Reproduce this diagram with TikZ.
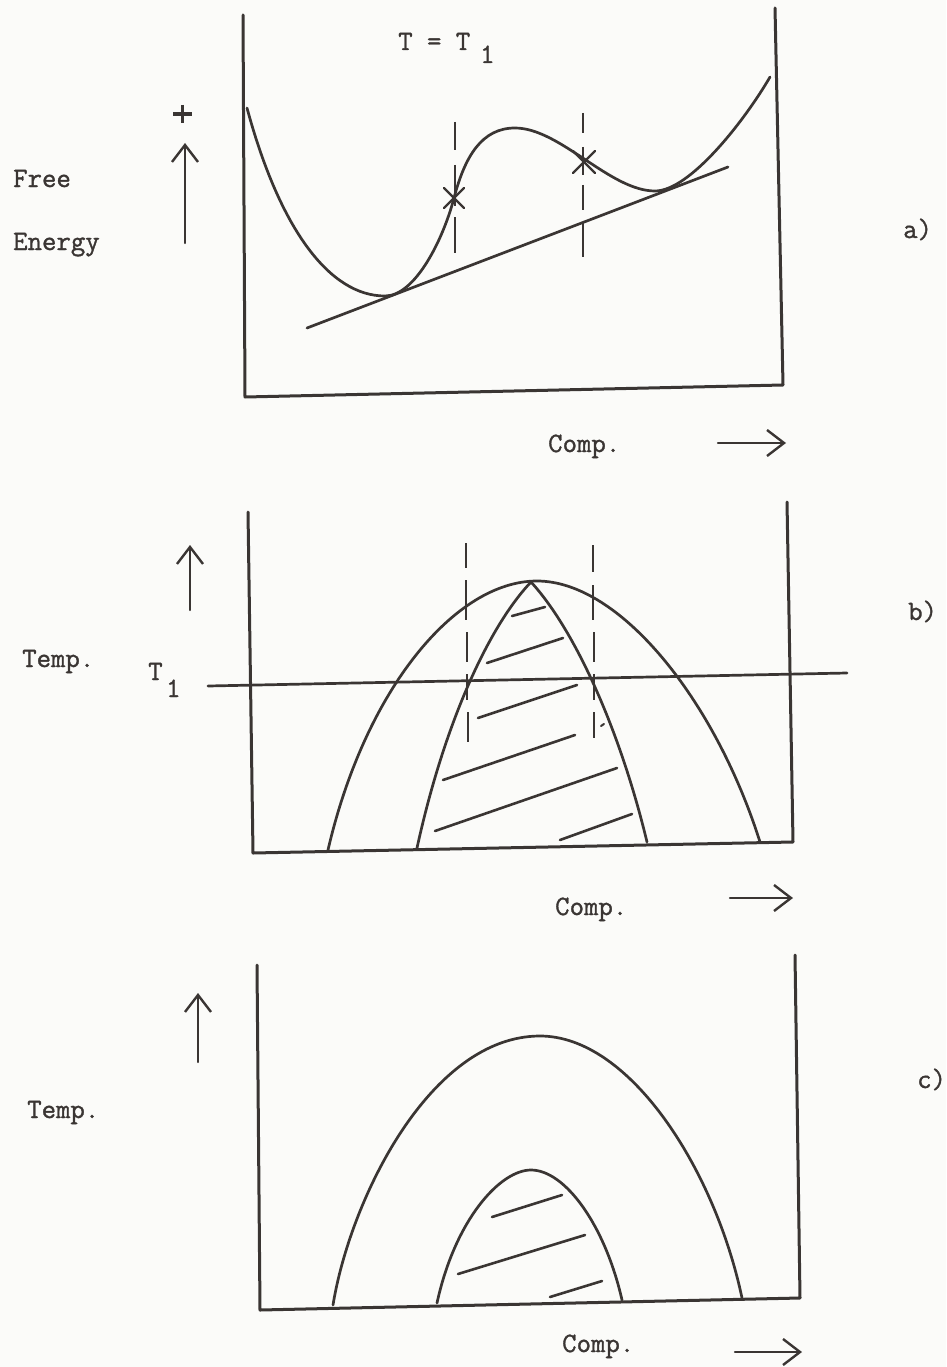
\documentclass[tikz,border=0pt]{standalone}
\usepackage{fontspec}
\newfontfamily\typer{Latin Modern Mono}[FakeBold=1.2]
\usetikzlibrary{arrows.meta}
\definecolor{ink}{HTML}{3A3533}
\definecolor{paper}{HTML}{FBFBF9}
\tikzset{
  axisline/.style={ink, line width=3pt, line cap=round, line join=round},
  curve/.style={ink, line width=2.7pt, line cap=round, line join=round},
  hatch/.style={ink, line width=2.6pt, line cap=round},
  guide/.style={ink, line width=2.4pt, line cap=butt},
  lbl/.style={anchor=base west, inner sep=0pt, text=ink, font=\fontsize{28}{30}\selectfont\typer},
  dirarrow/.style={ink, line width=2.4pt, line cap=round, -{Straight Barb[length=17pt,width=26pt,line width=2.4pt]}},
}
\begin{document}
\begin{tikzpicture}[x=1pt,y=-1pt]
\fill[paper] (0,0) rectangle (946,1367);
\useasboundingbox (0,0) rectangle (946,1367);

% ================= panel a =================
\draw[axisline] (243,15) -- (245,397) -- (783,385) -- (775,8);
\node[lbl] (aT) at (398,50) {T = T};
\node[lbl] (aT1) at (480,63) {1};
\node[lbl] (aFree) at (13,187) {Free};
\node[lbl] (aEnergy) at (13,250) {Energy};
\node[lbl] (aLab) at (903,238) {a)};
\node[lbl] (aComp) at (548,452) {Comp.};
% plus sign
\draw[ink, line width=3.6pt] (173,114) -- (192,114) (182.5,105) -- (182.5,123);
% arrows
\coordinate (aUpTail) at (185,243); \coordinate (aUpTip) at (185,143);
\draw[dirarrow] (aUpTail) -- (aUpTip);
\coordinate (aRTail) at (718,443); \coordinate (aRTip) at (786,443);
\draw[dirarrow] (aRTail) -- (aRTip);
% free energy curve
\coordinate (aStart) at (247,108);
\coordinate (aMin1) at (385,296);
\coordinate (aX1) at (454,198);
\coordinate (aMax) at (515,128);
\coordinate (aMin2) at (655,191);
\coordinate (aEnd) at (770,77);
\draw[curve] (aStart) .. controls (280,230) and (330,296) .. (aMin1)
  .. controls (415,296) and (443,240) .. (aX1)
  .. controls (465,156) and (482,128) .. (aMax)
  .. controls (560,128) and (610,191) .. (aMin2)
  .. controls (690,191) and (745,120) .. (aEnd);
% common tangent
\coordinate (aL1) at (307,328); \coordinate (aL2) at (728,167);
\draw[curve] (aL1) -- (aL2);
% dashed verticals
\draw[guide] (455,122) -- (455,150) (455,165) -- (455,206) (455,217) -- (455,253);
\draw[guide] (583,113) -- (583,133) (583,147) -- (583,175) (583,185) -- (583,210) (583,222) -- (583,257);
% crosses
\coordinate (aX2) at (584,162);
\draw[curve, line width=2.3pt] ([shift={(-10,-10)}]aX1) -- ([shift={(10,10)}]aX1) ([shift={(10,-10)}]aX1) -- ([shift={(-10,10)}]aX1);
\draw[curve, line width=2.3pt] ([shift={(-11,-11)}]aX2) -- ([shift={(11,11)}]aX2) ([shift={(11,-11)}]aX2) -- ([shift={(-11,11)}]aX2);

% ================= panel b =================
\draw[axisline] (248,512) -- (253,853) -- (793,842) -- (787,502);
\node[lbl] (bTemp) at (22,667) {Temp.};
\node[lbl] (bT) at (148,680) {T};
\node[lbl] (bT1) at (166,697) {1};
\node[lbl] (bLab) at (908,620) {b)};
\node[lbl] (bComp) at (555,915) {Comp.};
\coordinate (bUpTail) at (190,610); \coordinate (bUpTip) at (190,545);
\draw[dirarrow] (bUpTail) -- (bUpTip);
\coordinate (bRTail) at (730,898); \coordinate (bRTip) at (793,898);
\draw[dirarrow] (bRTail) -- (bRTip);
% T1 line
\coordinate (bH1) at (208,686); \coordinate (bH2) at (847,673);
\draw[curve] (bH1) -- (bH2);
% outer curve
\coordinate (bO1) at (328,850); \coordinate (bOTop) at (537,581); \coordinate (bO2) at (760,842);
\draw[curve] (bO1) .. controls (365,690) and (455,581) .. (bOTop)
  .. controls (620,581) and (715,700) .. (bO2);
% inner curve (two branches meeting at a point)
\coordinate (bI1) at (417,848); \coordinate (bITop) at (531,582); \coordinate (bI2) at (647,842);
\draw[curve] (bI1) .. controls (445,720) and (490,625) .. (bITop)
  .. controls (575,630) and (620,730) .. (bI2);
% dashed verticals
\draw[guide] (466,543) -- (466,568) (466,580) -- (466,620) (467,632) -- (467,662) (467,674) -- (467,700) (468,712) -- (468,742);
\draw[guide] (593,545) -- (593,572) (593,585) -- (593,620) (594,632) -- (594,662) (594,674) -- (594,700) (594,712) -- (594,738);
\draw[hatch, line width=2pt] (601,726) -- (604,724);
% hatching
\draw[hatch] (512,616) -- (545,607);
\draw[hatch] (487,663) -- (563,638);
\draw[hatch] (478,718) -- (577,685);
\draw[hatch] (443,780) -- (575,735);
\draw[hatch] (435,831) -- (617,768);
\draw[hatch] (560,840) -- (632,814);

% ================= panel c =================
\draw[axisline] (257,965) -- (260,1310) -- (800,1298) -- (795,955);
\node[lbl] (cTemp) at (27,1118) {Temp.};
\node[lbl] (cLab) at (917,1088) {c)};
\node[lbl] (cComp) at (562,1352) {Comp.};
\coordinate (cUpTail) at (198,1062); \coordinate (cUpTip) at (198,993);
\draw[dirarrow] (cUpTail) -- (cUpTip);
\coordinate (cRTail) at (735,1352); \coordinate (cRTip) at (802,1352);
\draw[dirarrow] (cRTail) -- (cRTip);
% outer curve
\coordinate (cO1) at (333,1305); \coordinate (cOTop) at (540,1036); \coordinate (cO2) at (742,1298);
\draw[curve] (cO1) .. controls (350,1200) and (430,1036) .. (cOTop)
  .. controls (630,1036) and (715,1170) .. (cO2);
% inner curve
\coordinate (cI1) at (437,1303); \coordinate (cITop) at (531,1170); \coordinate (cI2) at (622,1300);
\draw[curve] (cI1) .. controls (455,1220) and (500,1170) .. (cITop)
  .. controls (565,1170) and (605,1225) .. (cI2);
% hatching
\draw[hatch] (492,1217) -- (562,1195);
\draw[hatch] (458,1274) -- (585,1235);
\draw[hatch] (550,1297) -- (602,1281);
\end{tikzpicture}
\end{document}
